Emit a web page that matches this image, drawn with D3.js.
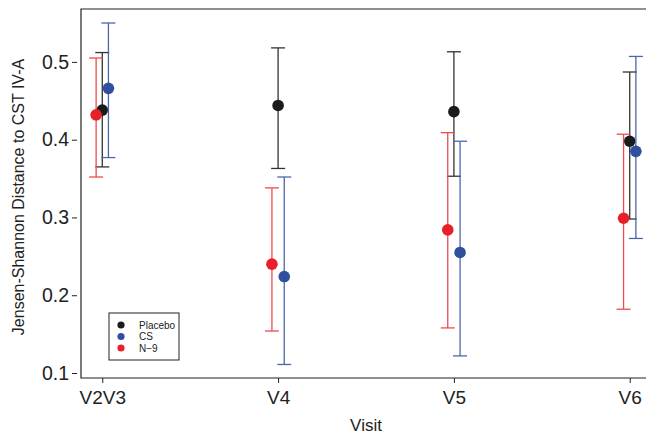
<!DOCTYPE html>
<html>
<head>
<meta charset="utf-8">
<script src="https://cdnjs.cloudflare.com/ajax/libs/d3/7.8.5/d3.min.js"></script>
<style>
body { margin: 0; background: #fff; }
text { font-family: "Liberation Sans", Arial, Helvetica, sans-serif; fill: #222; }
</style>
</head>
<body>
<script>
// visits on the x axis
var visits = ["V2V3", "V4", "V5", "V6"];
var yTicks = [0.1, 0.2, 0.3, 0.4, 0.5];

// mean and error bar ends per visit
var placeboMean = [0.438, 0.444, 0.436, 0.398];
var placeboLow  = [0.365, 0.363, 0.353, 0.298];
var placeboHigh = [0.512, 0.518, 0.513, 0.487];

var csMean = [0.466, 0.224, 0.255, 0.385];
var csLow  = [0.377, 0.111, 0.122, 0.273];
var csHigh = [0.550, 0.352, 0.398, 0.507];

var n9Mean = [0.432, 0.240, 0.284, 0.299];
var n9Low  = [0.352, 0.154, 0.158, 0.182];
var n9High = [0.505, 0.338, 0.409, 0.407];

var groups = [
  {name: "Placebo", color: "#1b1b1b", bar: "#333333", dodge: 0,      mean: placeboMean, lo: placeboLow, hi: placeboHigh},
  {name: "CS",      color: "#2f4f9f", bar: "#4a66ad", dodge: 0.035,  mean: csMean,      lo: csLow,      hi: csHigh},
  {name: "N\u22129", color: "#e8202a", bar: "#ee4a50", dodge: -0.035, mean: n9Mean,      lo: n9Low,      hi: n9High}
];

var W = 646, H = 436;
var plotL = 81, plotT = 9, plotB = 378, plotR = 651;

var svg = d3.select("body").append("svg")
  .attr("width", W).attr("height", H);

var x = d3.scaleLinear().domain([-0.121, 3.121]).range([plotL, plotR]);
var y = d3.scaleLinear().domain([0.0936, 0.568]).range([plotB, plotT]);

// frame (right side falls outside the picture)
svg.append("path")
  .attr("d", "M" + plotR + "," + plotT + "H" + plotL + "V" + plotB + "H" + plotR)
  .attr("fill", "none").attr("stroke", "#222").attr("stroke-width", 1.2);

// y axis
var yAxis = d3.axisLeft(y).tickValues(yTicks).tickSize(5).tickPadding(3)
  .tickFormat(d3.format(".1f"));
var gy = svg.append("g").attr("transform", "translate(" + (plotL - 4) + ",0)").call(yAxis);
gy.select(".domain").remove();
gy.selectAll("line").attr("stroke", "#222");
gy.selectAll("text").style("font-size", "19.5px");

// x axis
var xAxis = d3.axisBottom(x).tickValues(d3.range(visits.length)).tickSize(5).tickPadding(8)
  .tickFormat(function(i) { return visits[i]; });
var gx = svg.append("g").attr("transform", "translate(0," + plotB + ")").call(xAxis);
gx.select(".domain").remove();
gx.selectAll("line").attr("stroke", "#222");
gx.selectAll("text").style("font-size", "19px");

// axis titles
svg.append("text").attr("x", 366).attr("y", 431).attr("text-anchor", "middle")
  .style("font-size", "17px").text("Visit");
svg.append("text").attr("transform", "translate(24,197) rotate(-90)")
  .attr("text-anchor", "middle").style("font-size", "16px")
  .text("Jensen-Shannon Distance to CST IV-A");

// error bars and points
var cap = 7;
groups.forEach(function(g) {
  var layer = svg.append("g");
  var idx = d3.range(visits.length);
  layer.selectAll("line.v").data(idx).enter().append("line")
    .attr("x1", function(i) { return x(i + g.dodge); })
    .attr("x2", function(i) { return x(i + g.dodge); })
    .attr("y1", function(i) { return y(g.lo[i]); })
    .attr("y2", function(i) { return y(g.hi[i]); })
    .attr("stroke", g.bar).attr("stroke-width", 1.3);
  ["lo", "hi"].forEach(function(k) {
    layer.selectAll("line." + k).data(idx).enter().append("line")
      .attr("x1", function(i) { return x(i + g.dodge) - cap; })
      .attr("x2", function(i) { return x(i + g.dodge) + cap; })
      .attr("y1", function(i) { return y(g[k][i]); })
      .attr("y2", function(i) { return y(g[k][i]); })
      .attr("stroke", g.bar).attr("stroke-width", 1.3);
  });
  layer.selectAll("circle").data(idx).enter().append("circle")
    .attr("cx", function(i) { return x(i + g.dodge); })
    .attr("cy", function(i) { return y(g.mean[i]); })
    .attr("r", 5.8).attr("fill", g.color);
});

// legend
var lg = svg.append("g").attr("transform", "translate(109,313)");
lg.append("rect").attr("width", 70).attr("height", 47)
  .attr("fill", "#fff").attr("stroke", "#222").attr("stroke-width", 1);
groups.forEach(function(g, i) {
  lg.append("circle").attr("cx", 12).attr("cy", 12 + i * 11.5).attr("r", 3.6).attr("fill", g.color);
  lg.append("text").attr("x", 30).attr("y", 12 + i * 11.5).attr("dy", "0.35em")
    .style("font-size", "10px").text(g.name);
});
</script>
</body>
</html>
